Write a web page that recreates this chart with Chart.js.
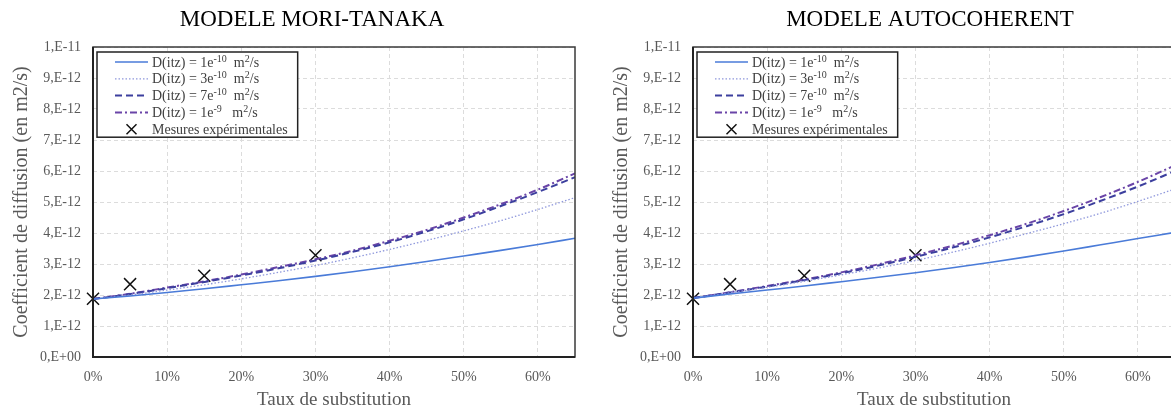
<!DOCTYPE html>
<html><head><meta charset="utf-8">
<script src="https://cdn.jsdelivr.net/npm/chart.js@4"></script>
<style>
html,body{margin:0;padding:0;overflow:hidden;background:#fff;width:1171px;height:414px;}
.wrap{position:absolute;top:0;height:414px;}
#w1{left:0;width:624px;}
#w2{left:600px;width:660px;}
</style></head><body>
<div class="wrap" id="w1"><canvas id="c1" width="624" height="414"></canvas></div>
<div class="wrap" id="w2"><canvas id="c2" width="660" height="414"></canvas></div>
<script>
// ---- data (values in units of 1e-12 m2/s, rates in %) ----
const rates = [0, 5, 10, 15, 20, 25, 30, 35, 40, 45, 50, 55, 60, 65];
const measuredRates = [0, 5, 15, 30];
const measuredValues = [1.88, 2.35, 2.62, 3.28];

const mtD1e10 = [1.87, 1.97, 2.08, 2.20, 2.33, 2.46, 2.60, 2.75, 2.91, 3.08, 3.26, 3.44, 3.63, 3.83];
const mtD3e10 = [1.87, 2.00, 2.16, 2.33, 2.52, 2.73, 2.95, 3.20, 3.47, 3.76, 4.07, 4.40, 4.76, 5.14];
const mtD7e10 = [1.87, 2.03, 2.22, 2.42, 2.63, 2.86, 3.11, 3.39, 3.70, 4.05, 4.44, 4.87, 5.32, 5.80];
const mtD1e9  = [1.87, 2.04, 2.24, 2.44, 2.66, 2.90, 3.15, 3.43, 3.75, 4.10, 4.50, 4.93, 5.40, 5.92];

const acD1e10 = [1.90, 2.03, 2.16, 2.29, 2.43, 2.57, 2.72, 2.88, 3.05, 3.23, 3.42, 3.62, 3.82, 4.02];
const acD3e10 = [1.90, 2.07, 2.25, 2.44, 2.65, 2.87, 3.11, 3.38, 3.67, 3.98, 4.30, 4.64, 5.02, 5.42];
const acD7e10 = [1.90, 2.08, 2.27, 2.48, 2.70, 2.95, 3.23, 3.53, 3.86, 4.22, 4.61, 5.04, 5.50, 6.00];
const acD1e9  = [1.90, 2.09, 2.29, 2.50, 2.73, 2.99, 3.28, 3.59, 3.93, 4.30, 4.71, 5.16, 5.65, 6.18];

const seriesLabels = [
  'D(itz) = 1e\u207B\u00B9\u2070  m\u00B2/s',
  'D(itz) = 3e\u207B\u00B9\u2070  m\u00B2/s',
  'D(itz) = 7e\u207B\u00B9\u2070  m\u00B2/s',
  'D(itz) = 1e\u207B\u2079   m\u00B2/s',
  'Mesures exp\u00E9rimentales'
];
const xTickLabels = ['0%', '10%', '20%', '30%', '40%', '50%', '60%'];
const yTickLabels = ['0,E+00', '1,E-12', '2,E-12', '3,E-12', '4,E-12', '5,E-12', '6,E-12', '7,E-12', '8,E-12', '9,E-12', '1,E-11'];
const titles = ['MODELE MORI-TANAKA', 'MODELE AUTOCOHERENT'];
const xTitle = 'Taux de substitution';
const yTitle = 'Coefficient de diffusion (en m2/s)';

// ---- styles ----
const SERIF = "'Liberation Serif', 'Times New Roman', serif";
const lineStyles = [
  {color: '#4a7bd8', width: 1.6, dash: []},
  {color: '#8f98dc', width: 1.3, dash: [1.5, 2]},
  {color: '#3c3f9e', width: 2, dash: [7, 4]},
  {color: '#6a45a8', width: 2, dash: [7, 3, 2, 3]}
];

const pts = (xs, ys) => xs.map((x, i) => ({x: x, y: ys[i]}));

// superscript characters drawn as small raised glyphs
const SUP = {'\u207B': '-', '\u2070': '0', '\u00B9': '1', '\u00B2': '2', '\u00B3': '3', '\u2079': '9'};
function richText(ctx, text, x, y, draw) {
  let cx = x;
  for (const ch of text) {
    const sup = SUP[ch];
    ctx.font = sup ? '10px ' + SERIF : '14px ' + SERIF;
    const s = sup || ch;
    if (draw) ctx.fillText(s, cx, sup ? y - 4 : y);
    cx += ctx.measureText(s).width;
  }
  return cx - x;
}

const frameLegend = {
  id: 'frameLegend',
  afterDatasetsDraw(chart) {
    const ctx = chart.ctx, ca = chart.chartArea;
    ctx.save();
    // plot frame
    ctx.strokeStyle = '#3a3a3a';
    ctx.lineWidth = 1.5;
    ctx.strokeRect(ca.left, ca.top, ca.right - ca.left, ca.bottom - ca.top);
    ctx.strokeStyle = '#222';
    ctx.lineWidth = 2;
    ctx.beginPath();
    ctx.moveTo(ca.left, ca.top); ctx.lineTo(ca.left, ca.bottom); ctx.lineTo(ca.right, ca.bottom);
    ctx.stroke();
    // legend
    const ds = chart.data.datasets;
    let maxW = 0;
    ds.forEach(d => { maxW = Math.max(maxW, richText(ctx, d.label, 0, 0, false)); });
    const bx = ca.left + 4, by = ca.top + 5;
    const sx = bx + 18, sw = 33, tx = sx + sw + 4;
    const rowH = 16.8, firstY = ca.top + 15;
    const bw = tx + maxW + 10 - bx, bh = firstY + rowH * (ds.length - 1) + 8 - by;
    ctx.fillStyle = '#fff';
    ctx.fillRect(bx, by, bw, bh);
    ctx.strokeStyle = '#222';
    ctx.lineWidth = 1.5;
    ctx.strokeRect(bx, by, bw, bh);
    ds.forEach((d, i) => {
      const y = firstY + i * rowH;
      ctx.save();
      if (d.showLine === false) {
        const cx = sx + sw / 2, r = 5;
        ctx.strokeStyle = d.borderColor;
        ctx.lineWidth = 1.5;
        ctx.beginPath();
        ctx.moveTo(cx - r, y - r); ctx.lineTo(cx + r, y + r);
        ctx.moveTo(cx + r, y - r); ctx.lineTo(cx - r, y + r);
        ctx.stroke();
      } else {
        ctx.strokeStyle = d.borderColor;
        ctx.lineWidth = d.borderWidth;
        ctx.setLineDash(d.borderDash || []);
        ctx.beginPath();
        ctx.moveTo(sx, y); ctx.lineTo(sx + sw, y);
        ctx.stroke();
      }
      ctx.restore();
      ctx.fillStyle = '#404040';
      ctx.textBaseline = 'middle';
      ctx.textAlign = 'left';
      richText(ctx, d.label, tx, y + 1, true);
    });
    ctx.restore();
  }
};

function makeChart(id, title, curves, rightWidth) {
  const datasets = curves.map((c, i) => ({
    type: 'line',
    label: seriesLabels[i],
    data: pts(rates, c),
    borderColor: lineStyles[i].color,
    borderWidth: lineStyles[i].width,
    borderDash: lineStyles[i].dash,
    pointRadius: 0,
    fill: false,
    cubicInterpolationMode: 'monotone'
  }));
  datasets.push({
    type: 'line',
    label: seriesLabels[4],
    data: pts(measuredRates, measuredValues),
    showLine: false,
    clip: false,
    pointStyle: 'crossRot',
    pointRadius: 8.5,
    pointBorderWidth: 1.5,
    borderColor: '#111',
    backgroundColor: '#111',
    pointBorderColor: '#111'
  });
  return new Chart(document.getElementById(id), {
    type: 'line',
    data: {datasets},
    plugins: [frameLegend],
    options: {
      responsive: false,
      animation: false,
      devicePixelRatio: 1,
      layout: {padding: 0},
      plugins: {
        legend: {display: false},
        tooltip: {enabled: false},
        title: {
          display: true, text: title, color: '#000',
          font: {family: SERIF, size: 23, weight: 'normal', lineHeight: 1.2},
          padding: {top: 6, bottom: 13.4}
        }
      },
      scales: {
        x: {
          type: 'linear', min: 0, max: 65,
          afterBuildTicks: s => { s.ticks = s.ticks.filter(t => t.value <= 60); },
          afterFit: s => { s.height = 57; },
          ticks: {stepSize: 10, padding: 12, color: '#595959',
            font: {family: SERIF, size: 14},
            callback: v => xTickLabels[Math.round(v / 10)]},
          grid: {color: '#dcdcdc', drawTicks: false, lineWidth: 1},
          border: {display: false, dash: [4, 3]},
          title: {display: true, text: xTitle, color: '#595959',
            font: {family: SERIF, size: 19}, padding: {top: 0, bottom: 3}}
        },
        y: {
          type: 'linear', min: 0, max: 10,
          afterFit: s => { s.width = 93; },
          ticks: {stepSize: 1, padding: 12, color: '#595959',
            font: {family: SERIF, size: 14},
            callback: v => yTickLabels[Math.round(v)]},
          grid: {color: '#dcdcdc', drawTicks: false, lineWidth: 1},
          border: {display: false, dash: [4, 3]},
          title: {display: true, text: yTitle, color: '#595959',
            font: {family: SERIF, size: 20}, padding: {top: 10, bottom: 0}}
        },
        yRight: {
          type: 'linear', position: 'right', min: 0, max: 10,
          afterFit: s => { s.width = rightWidth; },
          ticks: {display: false},
          grid: {display: false, drawTicks: false},
          border: {display: false}
        }
      }
    }
  });
}

makeChart('c1', titles[0], [mtD1e10, mtD3e10, mtD7e10, mtD1e9], 49);
makeChart('c2', titles[1], [acD1e10, acD3e10, acD7e10, acD1e9], 85);
</script>
</body></html>
